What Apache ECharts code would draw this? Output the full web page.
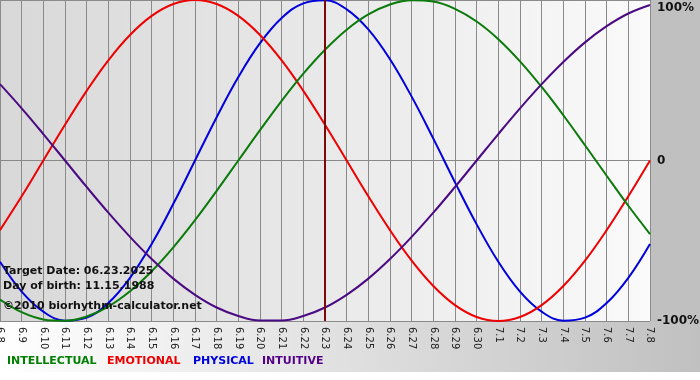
<!DOCTYPE html>
<html>
<head>
<meta charset="utf-8">
<script src="https://cdn.jsdelivr.net/npm/echarts@6/dist/echarts.min.js"></script>
<style>
html,body{margin:0;padding:0;background:#ffffff;}
#chart{width:700px;height:380px;}
</style>
</head>
<body>
<div id="chart"></div>
<script>
var days = ['6.8','6.9','6.10','6.11','6.12','6.13','6.14','6.15','6.16','6.17','6.18','6.19','6.20','6.21','6.22','6.23','6.24','6.25','6.26','6.27','6.28','6.29','6.30','7.1','7.2','7.3','7.4','7.5','7.6','7.7','7.8'];
var targetDay = '6.23';
var yTicks = {'1':'100%','0':'0','-1':'-100%'};

var physical = [-0.631,-0.817,-0.942,-0.998,-0.979,-0.888,-0.731,-0.520,-0.270,0,0.270,0.520,0.731,0.888,0.979,0.998,0.942,0.817,0.631,0.398,0.136,-0.136,-0.398,-0.631,-0.817,-0.942,-0.998,-0.979,-0.888,-0.731,-0.520];
var emotional = [-0.434,-0.223,0,0.223,0.434,0.624,0.782,0.901,0.975,1,0.975,0.901,0.782,0.624,0.434,0.223,0,-0.223,-0.434,-0.624,-0.782,-0.901,-0.975,-1,-0.975,-0.901,-0.782,-0.624,-0.434,-0.223,0];
var intellectual = [-0.866,-0.945,-0.990,-0.999,-0.972,-0.910,-0.815,-0.690,-0.541,-0.372,-0.189,0,0.189,0.372,0.541,0.690,0.815,0.910,0.972,0.999,0.990,0.945,0.866,0.756,0.618,0.458,0.282,0.095,-0.095,-0.282,-0.458];
var intuitive = [0.476,0.325,0.165,0,-0.165,-0.325,-0.476,-0.614,-0.736,-0.837,-0.916,-0.969,-0.997,-0.997,-0.969,-0.916,-0.837,-0.736,-0.614,-0.476,-0.325,-0.165,0,0.165,0.325,0.476,0.614,0.736,0.837,0.916,0.969];

var infoLines = ['Target Date: 06.23.2025','Day of birth: 11.15.1988','\u00a92010 biorhythm-calculator.net'];
var legendNames = ['INTELLECTUAL','EMOTIONAL','PHYSICAL','INTUITIVE'];
var legendColors = ['#008000','#ee0000','#0000dd','#550088'];

var chart = echarts.init(document.getElementById('chart'));
var F = '"DejaVu Sans", Verdana, sans-serif';

function line(name, data, color){
  return {name:name,type:'line',data:data,smooth:0.4,symbol:'none',
    lineStyle:{color:color,width:2},itemStyle:{color:color},z:3};
}

var series = [
  line('PHYSICAL', physical, '#0000dd'),
  line('EMOTIONAL', emotional, '#ee0000'),
  line('INTELLECTUAL', intellectual, '#0a7a0a'),
  line('INTUITIVE', intuitive, '#4b0a82')
];
series[0].markLine = {silent:true,symbol:['none','none'],label:{show:false},
  lineStyle:{color:'#7a0a0a',width:2,type:'solid'},data:[{xAxis:targetDay}]};

var legendX = [7,107,193,262];
var graphics = [
  {type:'rect',z:-10,shape:{x:0,y:321,width:700,height:51},
   style:{fill:new echarts.graphic.LinearGradient(0,0,1,0,[{offset:0,color:'#ffffff'},{offset:1,color:'#c0c0c0'}])}},
  {type:'rect',z:-10,shape:{x:650,y:0,width:50,height:321},style:{fill:'#c0c0c0'}}
];
infoLines.forEach(function(t,i){
  graphics.push({type:'text',left:3,top:[266,281,301][i],z:10,
    style:{text:t,font:'bold 11px '+F,fill:'#111111'}});
});
legendNames.forEach(function(t,i){
  graphics.push({type:'text',left:legendX[i],top:356,z:10,
    style:{text:t,font:'bold 11px '+F,fill:legendColors[i]}});
});

chart.setOption({
  animation:false,
  backgroundColor:'#ffffff',
  grid:{left:0,right:50,top:0,bottom:59,show:true,borderWidth:0,containLabel:false,outerBoundsMode:'none',
    backgroundColor:new echarts.graphic.LinearGradient(0,0,1,0,[{offset:0,color:'#d8d8d8'},{offset:1,color:'#fafafa'}])},
  xAxis:{type:'category',data:days,boundaryGap:false,
    axisLine:{show:true,lineStyle:{color:'#888888',width:1}},
    axisTick:{show:true,length:4,interval:0,lineStyle:{color:'#888888'}},
    splitLine:{show:true,interval:0,lineStyle:{color:'#8a8a8a',width:1}},
    axisLabel:{interval:0,rotate:-90,margin:6,fontSize:10,fontFamily:F,color:'#222222',hideOverlap:false}},
  yAxis:{type:'value',position:'right',min:-1,max:1,interval:1,
    axisLine:{show:false},axisTick:{show:false},
    splitLine:{show:true,lineStyle:{color:'#8a8a8a',width:1}},
    axisLabel:{margin:7,fontSize:12,fontWeight:'bold',fontFamily:F,color:'#111111',
      formatter:function(v){ var s=yTicks[String(v)]; return v===1?'{t|'+s+'}':s; },
      rich:{t:{fontSize:12,fontWeight:'bold',fontFamily:F,color:'#111111',padding:[15,0,0,0]}}}},
  graphic:graphics,
  series:series
});
</script>
</body>
</html>
